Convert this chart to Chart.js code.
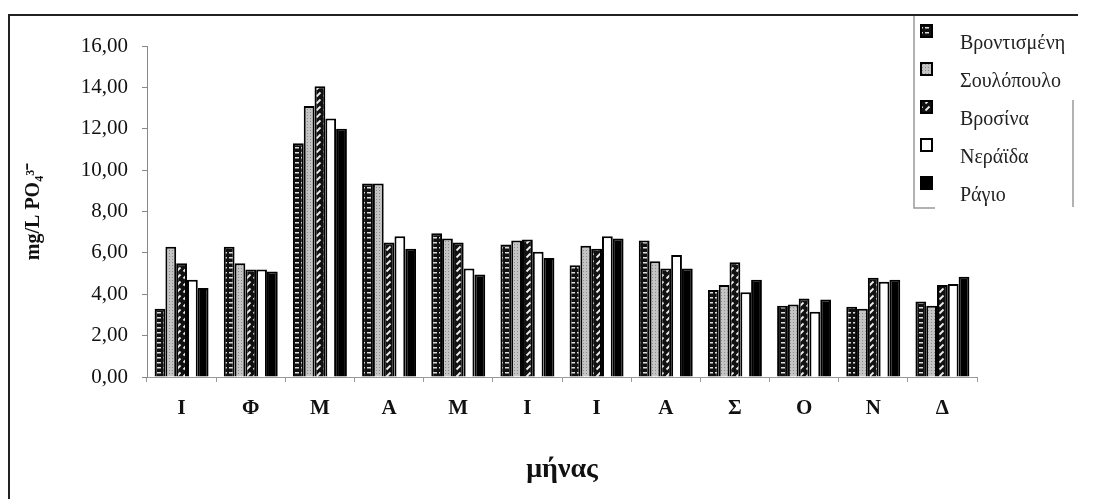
<!DOCTYPE html>
<html>
<head>
<meta charset="utf-8">
<script src="https://cdn.jsdelivr.net/npm/chart.js@4.4.1/dist/chart.umd.min.js"></script>
<style>
html, body { margin: 0; padding: 0; background: #fff; }
#wrap { position: relative; width: 1096px; height: 499px; overflow: hidden; }
#frame { position: absolute; left: 8px; top: 14px; width: 1068px; height: 500px; border-top: 2px solid #222; border-left: 2px solid #222; }
canvas { position: absolute; left: 0; top: 0; }
</style>
</head>
<body>
<div id="wrap">
  <div id="frame"></div>
  <canvas id="chart" width="1096" height="499"></canvas>
</div>
<script>
// months (Greek initials) and PO4 values per site
const months = ['Ι', 'Φ', 'Μ', 'Α', 'Μ', 'Ι', 'Ι', 'Α', 'Σ', 'Ο', 'Ν', 'Δ'];
const vrontismeni = [3.3, 6.3, 11.3, 9.35, 6.95, 6.4, 5.4, 6.6, 4.2, 3.45, 3.4, 3.65];
const soulopoulo = [6.3, 5.5, 13.1, 9.35, 6.7, 6.6, 6.35, 5.6, 4.45, 3.5, 3.3, 3.45];
const vrosina = [5.5, 5.2, 14.05, 6.5, 6.5, 6.65, 6.2, 5.25, 5.55, 3.8, 4.8, 4.45];
const neraida = [4.7, 5.2, 12.5, 6.8, 5.25, 6.05, 6.8, 5.9, 4.1, 3.15, 4.6, 4.5];
const ragio = [4.3, 5.1, 12.0, 6.2, 4.95, 5.75, 6.7, 5.25, 4.7, 3.75, 4.7, 4.85];
const siteNames = ['Βροντισμένη', 'Σουλόπουλο', 'Βροσίνα', 'Νεράϊδα', 'Ράγιο'];
const yTicks = [0, 2, 4, 6, 8, 10, 12, 14, 16];

function tile(w, h, draw) {
    var c = document.createElement('canvas');
    c.width = w;
    c.height = h;
    var g = c.getContext('2d');
    draw(g);
    return g.createPattern(c, 'repeat');
}

var brick = tile(6, 5, function (g) {
    g.fillStyle = '#111';
    g.fillRect(0, 0, 6, 5);
    g.fillStyle = '#ddd';
    g.fillRect(1, 2, 4, 1.5);
});
var dots = tile(3, 3, function (g) {
    g.fillStyle = '#c4c4c4';
    g.fillRect(0, 0, 3, 3);
    g.fillStyle = '#8a8a8a';
    g.fillRect(1, 1, 1, 1);
});
var hatch = tile(7, 7, function (g) {
    g.fillStyle = '#111';
    g.fillRect(0, 0, 7, 7);
    g.strokeStyle = '#eee';
    g.lineWidth = 1.8;
    g.beginPath();
    g.moveTo(1.5, 5.5);
    g.lineTo(5.5, 1.5);
    g.stroke();
});

var fills = [brick, dots, hatch, '#ffffff', '#000000'];
var values = [vrontismeni, soulopoulo, vrosina, neraida, ragio];

// legend box in the top right corner, like the original
const boxLegend = {
    id: 'boxLegend',
    afterDraw(chart) {
        var g = chart.ctx;
        g.save();
        g.strokeStyle = '#999';
        g.lineWidth = 1.5;
        g.beginPath();
        g.moveTo(914, 16);
        g.lineTo(914, 208);
        g.lineTo(935, 208);
        g.moveTo(1073, 100);
        g.lineTo(1073, 207);
        g.stroke();
        chart.data.datasets.forEach(function (ds, i) {
            var y = 31 + 38 * i;
            g.fillStyle = ds.backgroundColor;
            g.fillRect(921, y - 6, 11, 12);
            g.strokeStyle = '#000';
            g.lineWidth = 2;
            g.strokeRect(921, y - 6, 11, 12);
            g.fillStyle = '#222';
            g.font = '20px "Liberation Serif", "DejaVu Serif", serif';
            g.textBaseline = 'middle';
            g.textAlign = 'left';
            g.fillText(ds.label, 960, y + 13);
        });
        g.restore();
    }
};

function createGraph() {
    var datasets = [];
    for (let i = 0; i < siteNames.length; i++) {
        datasets.push({
            label: siteNames[i],
            data: values[i],
            backgroundColor: fills[i],
            borderColor: '#000',
            borderWidth: 2,
            categoryPercentage: 0.78,
            barPercentage: 1.0
        });
    }
    new Chart(document.getElementById('chart'), {
        type: 'bar',
        data: { labels: months, datasets: datasets },
        plugins: [boxLegend],
        options: {
            responsive: false,
            animation: false,
            devicePixelRatio: 1,
            layout: { padding: { left: 0, right: 119, top: 46, bottom: 0 } },
            plugins: { legend: { display: false }, tooltip: { enabled: false } },
            scales: {
                x: {
                    afterFit: function (s) { s.height = 122; },
                    grid: { offset: true, drawOnChartArea: false, tickLength: 5, color: '#999' },
                    border: { color: '#999' },
                    ticks: {
                        padding: 14,
                        color: '#111',
                        font: { family: 'Liberation Serif', size: 21, weight: 'bold' }
                    },
                    title: {
                        display: true,
                        text: 'μήνας',
                        color: '#111',
                        padding: { top: 0, bottom: 12 },
                        font: { family: 'Liberation Serif', size: 28, weight: 'bold' }
                    }
                },
                y: {
                    min: 0,
                    max: 16,
                    afterFit: function (s) { s.width = 147; },
                    afterBuildTicks: function (s) { s.ticks = yTicks.map(v => ({ value: v })); },
                    grid: { drawOnChartArea: false, tickLength: 5, color: '#888' },
                    border: { color: '#888' },
                    ticks: {
                        padding: 14,
                        color: '#111',
                        font: { family: 'Liberation Serif', size: 21 },
                        callback: v => v.toFixed(2).replace('.', ',')
                    },
                    title: {
                        display: true,
                        text: 'mg/L PO₄³⁻',
                        color: '#111',
                        padding: { top: 22, bottom: 0 },
                        font: { family: 'Liberation Serif', size: 20, weight: 'bold' }
                    }
                }
            }
        }
    });
}

createGraph();
</script>
</body>
</html>
